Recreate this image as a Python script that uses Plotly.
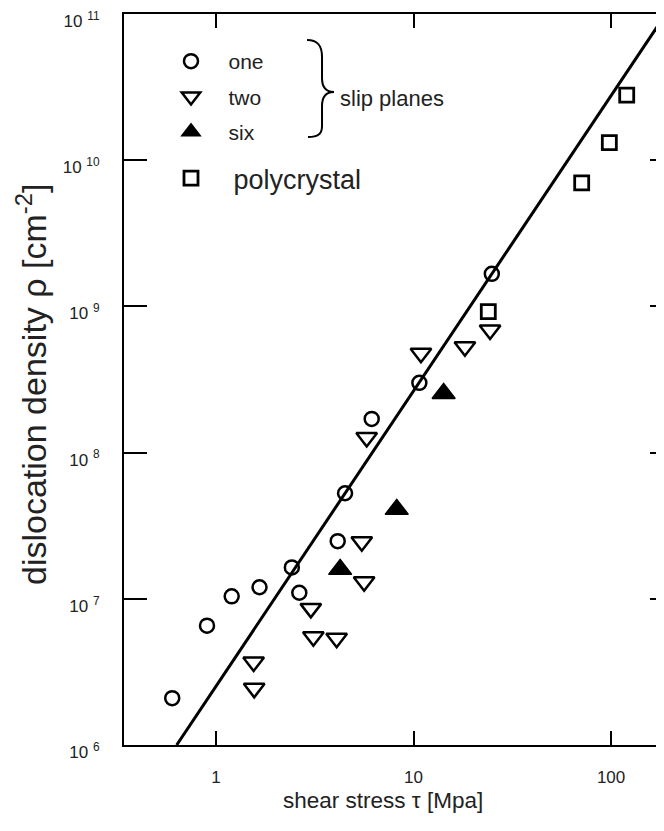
import plotly.graph_objects as go

# ---- data ----
one_tau = [0.60, 0.90, 1.20, 1.66, 2.42, 2.64, 4.13, 4.50, 6.14, 10.7, 24.9]
one_rho = [2.09e6, 6.55e6, 1.04e7, 1.20e7, 1.64e7, 1.10e7, 2.48e7, 5.27e7, 1.70e8, 3.0e8, 1.67e9]

two_tau = [1.55, 1.56, 3.02, 3.11, 4.08, 5.47, 5.62, 5.79, 10.9, 18.2, 24.4]
two_rho = [3.7e6, 2.44e6, 8.6e6, 5.5e6, 5.37e6, 2.46e7, 1.31e7, 1.27e8, 4.78e8, 5.3e8, 6.9e8]

six_tau = [4.25, 8.22, 14.2]
six_rho = [1.59e7, 4.09e7, 2.54e8]

poly_tau = [23.9, 71, 98, 120]
poly_rho = [9.2e8, 7.0e9, 1.32e10, 2.79e10]

fit_tau = [0.632, 200]
fit_rho = [1.0e6, 1.12e11]

x_tickvals = [1, 10, 100]
x_ticktext = ["1", "10", "100"]
y_tickvals = [1e6, 1e7, 1e8, 1e9, 1e10, 1e11]
y_ticktext = ["10 <sup>6</sup>", "10 <sup>7</sup>", "10 <sup>8</sup>",
              "10 <sup>9</sup>", "10 <sup>10</sup>", "10 <sup>11</sup>"]

FONT = "Liberation Sans, Arial, sans-serif"
OFF = 8                      # default page body margin
W, H = 664 - OFF, 831 - OFF
ML, MR, MT, MB = 124 - OFF, 0, 14 - OFF, 86
PW, PH = W - ML - MR, H - MT - MB


def px2paper(px, py):
    """page pixel -> paper coordinates"""
    return (px - OFF - ML) / PW, (H - MB - (py - OFF)) / PH


fig = go.Figure()

fig.add_trace(go.Scatter(x=fit_tau, y=fit_rho, mode="lines",
                         line=dict(color="black", width=3),
                         showlegend=False, yaxis="y2"))

NB = "\u00a0"
fig.add_trace(go.Scatter(x=one_tau, y=one_rho, mode="markers", name=NB * 3 + "one",
                         legendgroup="a",
                         marker=dict(symbol="circle", size=14, color="white",
                                     line=dict(color="black", width=2.5))))
fig.add_trace(go.Scatter(x=two_tau, y=two_rho, mode="markers", name=NB * 3 + "two",
                         legendgroup="b",
                         marker=dict(symbol="triangle-down", size=18, color="white",
                                     line=dict(color="black", width=2.5))))
fig.add_trace(go.Scatter(x=six_tau, y=six_rho, mode="markers", name=NB * 3 + "six",
                         legendgroup="c",
                         marker=dict(symbol="triangle-up", size=20, color="black",
                                     line=dict(color="black", width=1.5))))
fig.add_trace(go.Scatter(x=poly_tau, y=poly_rho, mode="markers", name=NB * 3 + "polycrystal",
                         legend="legend2",
                         marker=dict(symbol="square", size=14, color="white",
                                     line=dict(color="black", width=2.8))))

# curly brace for "slip planes"
pts = [(307, 40), (318, 40), (322, 46), (322, 57), (322, 78), (322, 88), (326, 92), (334, 92),
       (326, 92), (322, 96), (322, 106), (322, 126), (322, 134), (318, 137), (308, 137)]
pp = [px2paper(*p) for p in pts]
f = lambda p: f"{p[0]:.4f},{p[1]:.4f}"
path = (f"M {f(pp[0])} C {f(pp[1])} {f(pp[2])} {f(pp[3])} L {f(pp[4])} "
        f"C {f(pp[5])} {f(pp[6])} {f(pp[7])} C {f(pp[8])} {f(pp[9])} {f(pp[10])} "
        f"L {f(pp[11])} C {f(pp[12])} {f(pp[13])} {f(pp[14])}")
fig.add_shape(type="path", path=path, xref="paper", yref="paper",
              line=dict(color="black", width=2))

sx, sy = px2paper(338, 99)
fig.add_annotation(x=sx, y=sy, xref="paper", yref="paper", text="slip planes",
                   showarrow=False, xanchor="left", yanchor="middle",
                   font=dict(family=FONT, size=22, color="#222"))

# axis titles
tx, ty = px2paper(383, 800)
fig.add_annotation(x=tx, y=ty, xref="paper", yref="paper",
                   text="shear stress \u03c4 [Mpa]", showarrow=False,
                   xanchor="center", yanchor="middle",
                   font=dict(family=FONT, size=22.5, color="#222"))
yx, yy = px2paper(31, 385)
fig.add_annotation(x=yx, y=yy, xref="paper", yref="paper", textangle=-90,
                   text="dislocation density \u03c1 [cm<sup>-2</sup>]", showarrow=False,
                   xanchor="center", yanchor="middle",
                   font=dict(family=FONT, size=34, color="#222"))

lx, ly = px2paper(171, 41)
l2x, l2y = px2paper(171, 154)

fig.update_layout(
    width=W, height=H,
    margin=dict(l=ML, r=MR, t=MT, b=MB, autoexpand=False),
    paper_bgcolor="white", plot_bgcolor="white",
    font=dict(family=FONT, color="#222"),
    legend=dict(x=lx, y=ly, xanchor="left", yanchor="top",
                bgcolor="rgba(0,0,0,0)", font=dict(size=21, color="#222"),
                tracegroupgap=5, itemclick=False),
    legend2=dict(x=l2x, y=l2y, xanchor="left", yanchor="top",
                 bgcolor="rgba(0,0,0,0)", font=dict(size=27, color="#222")),
    xaxis=dict(type="log", range=[-0.466, 2.268], automargin=False,
               tickvals=x_tickvals, ticktext=x_ticktext,
               ticks="inside", ticklen=14, tickwidth=2, tickcolor="black",
               showline=True, linewidth=2, linecolor="black", mirror="ticks",
               showgrid=False, zeroline=False,
               tickfont=dict(size=17, color="#222"),
               ticklabelstandoff=16, ticklabeloverflow="allow"),
    yaxis=dict(type="log", range=[6, 11], automargin=False,
               tickvals=y_tickvals, ticktext=y_ticktext,
               ticks="inside", ticklen=23, tickwidth=2, tickcolor="black",
               showline=True, linewidth=2, linecolor="black", mirror=False,
               showgrid=False, zeroline=False,
               tickfont=dict(size=17, color="#222"),
               ticklabelstandoff=19, ticklabelshift=7, ticklabeloverflow="allow"),
    yaxis2=dict(type="log", range=[6, 11], overlaying="y", side="right",
                anchor="free", position=1.0, automargin=False,
                tickvals=y_tickvals, ticks="inside", ticklen=14, tickwidth=2,
                tickcolor="black", showticklabels=False, showgrid=False,
                showline=False, zeroline=False),
)

fig.write_html("out.html")
